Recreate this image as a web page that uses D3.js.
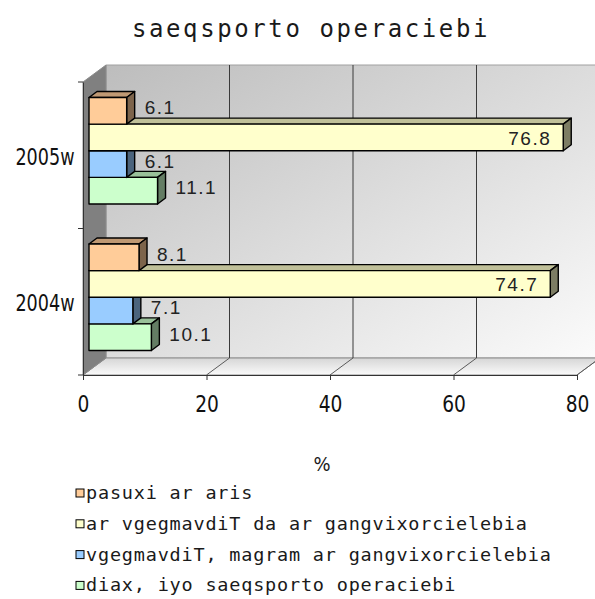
<!DOCTYPE html>
<html>
<head>
<meta charset="utf-8">
<title>saeqsporto operaciebi</title>
<script src="https://d3js.org/d3.v7.min.js"></script>
<style>
  body { margin: 0; background: #fff; }
  svg { display: block; }
  .tick text { font-family: "DejaVu Sans Condensed", "DejaVu Sans", sans-serif; fill: #111; }
  .lbl { font-family: "Liberation Sans", Arial, sans-serif; font-size: 19px; fill: #222; letter-spacing: 1.5px; }
  .geo { font-family: "DejaVu Sans Mono", "Liberation Mono", monospace; fill: #1a1a1a; }
</style>
</head>
<body>
<svg width="595" height="599"></svg>
<script>
// data
let categories = ['2005w', '2004w'];
let seriesNames = [
  'pasuxi ar aris',
  'ar vgegmavdiT da ar gangvixorcielebia',
  'vgegmavdiT, magram ar gangvixorcielebia',
  'diax, iyo saeqsporto operaciebi'
];
let noAnswer    = [6.1, 8.1];
let notPlanned  = [76.8, 74.7];
let plannedNot  = [6.1, 7.1];
let yesExport   = [11.1, 10.1];
let xTicks = [0, 20, 40, 60, 80];
let colors = ['#FFCC99', '#FFFFCC', '#99CCFF', '#CCFFCC'];

let seriesValues = [noAnswer, notPlanned, plannedNot, yesExport];

let svg = d3.select('svg');
let plot = {left: 83, right: 577, top: 82, bottom: 375};
let depth = {dx: 23, dy: -17};      // walls
let barOff = {dx: 6, dy: -4.5};     // bar front face sits a bit inside the box
let barDepth = {dx: 8, dy: -6};

let x = d3.scaleLinear().domain([0, 80]).range([plot.left, plot.right]);
let y0 = d3.scaleBand().domain(categories).range([plot.top, plot.bottom]);
let y1 = d3.scaleBand().domain(d3.range(seriesNames.length))
           .range([0, y0.bandwidth()]).paddingOuter(0.75).paddingInner(0);

let defs = svg.append('defs');
let wallGrad = defs.append('linearGradient').attr('id', 'wall')
    .attr('x1', 0).attr('y1', 0).attr('x2', 1).attr('y2', 1);
wallGrad.append('stop').attr('offset', '0%').attr('stop-color', '#bdbdbd');
wallGrad.append('stop').attr('offset', '100%').attr('stop-color', '#fbfbfb');
let floorGrad = defs.append('linearGradient').attr('id', 'floor')
    .attr('x1', 0).attr('y1', 0).attr('x2', 0).attr('y2', 1);
floorGrad.append('stop').attr('offset', '0%').attr('stop-color', '#d6d6d6');
floorGrad.append('stop').attr('offset', '100%').attr('stop-color', '#fafafa');

let pts = a => a.map(p => p.join(',')).join(' ');
let x0 = x(0), xN = x(80);
let T = plot.top, B = plot.bottom, D = depth;

// back wall
svg.append('polygon')
  .attr('points', pts([[x0 + D.dx, T + D.dy], [xN + D.dx, T + D.dy], [xN + D.dx, B + D.dy], [x0 + D.dx, B + D.dy]]))
  .attr('fill', 'url(#wall)').attr('stroke', '#a0a0a0');
// floor
svg.append('polygon')
  .attr('points', pts([[x0, B], [x0 + D.dx, B + D.dy], [xN + D.dx, B + D.dy], [xN, B]]))
  .attr('fill', 'url(#floor)').attr('stroke', '#8c8c8c');
// left wall
svg.append('polygon')
  .attr('points', pts([[x0, T], [x0 + D.dx, T + D.dy], [x0 + D.dx, B + D.dy], [x0, B]]))
  .attr('fill', '#808080').attr('stroke', '#8c8c8c');

// gridlines
svg.selectAll('.grid').data(xTicks.slice(1)).join('line')
  .attr('x1', d => x(d) + D.dx).attr('x2', d => x(d) + D.dx)
  .attr('y1', T + D.dy).attr('y2', B + D.dy)
  .attr('stroke', '#3a3a3a');
svg.selectAll('.fgrid').data(xTicks.slice(1)).join('line')
  .attr('x1', d => x(d)).attr('x2', d => x(d) + D.dx)
  .attr('y1', B).attr('y2', B + D.dy)
  .attr('stroke', '#5a5a5a');

// axes
let xAxis = svg.append('g')
  .attr('transform', `translate(0,${B})`)
  .call(d3.axisBottom(x).tickValues(xTicks).tickSize(5).tickPadding(16).tickSizeOuter(0));
xAxis.selectAll('.tick text').style('font-size', '23px').attr('transform', 'scale(0.9,1)');
xAxis.select('.domain').attr('stroke', '#333');
xAxis.selectAll('.tick line').attr('stroke', '#333');

let yAxis = svg.append('g')
  .attr('transform', `translate(${x0},0)`)
  .call(d3.axisLeft(y0).tickSize(0).tickPadding(10));
yAxis.selectAll('.tick text').style('font-size', '23px')
  .attr('dy', '0.42em').attr('transform', 'scale(0.85,1)');
yAxis.select('.domain').attr('stroke', '#333');
let bounds = [plot.top].concat(categories.map(c => y0(c) + y0.bandwidth()));
svg.selectAll('.ytick').data(bounds).join('line')
  .attr('x1', x0 - 5).attr('x2', x0).attr('y1', d => d).attr('y2', d => d)
  .attr('stroke', '#333');

// bars, lowest series first so upper bars cover the top faces below them
let bars = [];
categories.forEach((c, ci) => {
  seriesValues.forEach((vals, si) => {
    bars.push({cat: c, si: si, v: vals[ci]});
  });
});
bars.sort((a, b) => b.si - a.si);

let bd = barDepth;
let g = svg.append('g');
bars.forEach(d => {
  let yt = y0(d.cat) + y1(d.si) + barOff.dy;
  let h = y1.bandwidth();
  let xl = x(0) + barOff.dx;
  let xr = x(d.v) + barOff.dx;
  let col = d3.rgb(colors[d.si]);
  let bar = g.append('g').attr('stroke', '#000').attr('stroke-width', 1.4).attr('stroke-linejoin', 'round');
  bar.append('polygon')
    .attr('points', pts([[xl, yt], [xl + bd.dx, yt + bd.dy], [xr + bd.dx, yt + bd.dy], [xr, yt]]))
    .attr('fill', col.darker(0.8));
  bar.append('polygon')
    .attr('points', pts([[xr, yt], [xr + bd.dx, yt + bd.dy], [xr + bd.dx, yt + h + bd.dy], [xr, yt + h]]))
    .attr('fill', col.darker(2));
  bar.append('rect')
    .attr('x', xl).attr('y', yt).attr('width', xr - xl).attr('height', h)
    .attr('fill', col);
  d.yc = yt + h / 2;
  d.xr = xr;
});

// data labels
bars.forEach(d => {
  let inside = d.si === 1;
  svg.append('text').attr('class', 'lbl')
    .attr('x', inside ? d.xr - 12 : d.xr + 18)
    .attr('y', inside ? d.yc + 1 : d.yc - 3)
    .attr('dominant-baseline', 'central')
    .attr('text-anchor', inside ? 'end' : 'start')
    .text(d3.format('.1f')(d.v));
});

// title
svg.append('text').attr('class', 'geo')
  .attr('x', 311).attr('y', 37)
  .attr('text-anchor', 'middle')
  .style('font-size', '24px').attr('letter-spacing', '2.6px')
  .text('saeqsporto operaciebi');

// axis title
svg.append('text')
  .attr('x', 322).attr('y', 471)
  .attr('text-anchor', 'middle')
  .style('font-family', '"DejaVu Sans Condensed", sans-serif')
  .style('font-size', '20px').attr('fill', '#1a1a1a')
  .text('%');

// legend
let legend = svg.append('g').attr('transform', 'translate(76,489)');
let items = legend.selectAll('g').data(seriesNames).join('g')
  .attr('transform', (d, i) => `translate(0,${i * 30.8})`);
items.append('rect')
  .attr('width', 8).attr('height', 8)
  .attr('fill', (d, i) => colors[i]).attr('stroke', '#000').attr('stroke-width', 1);
items.append('text').attr('class', 'geo')
  .attr('x', 10).attr('y', 10)
  .style('font-size', '18.5px').attr('letter-spacing', '0.8px')
  .text(d => d);
</script>
</body>
</html>
